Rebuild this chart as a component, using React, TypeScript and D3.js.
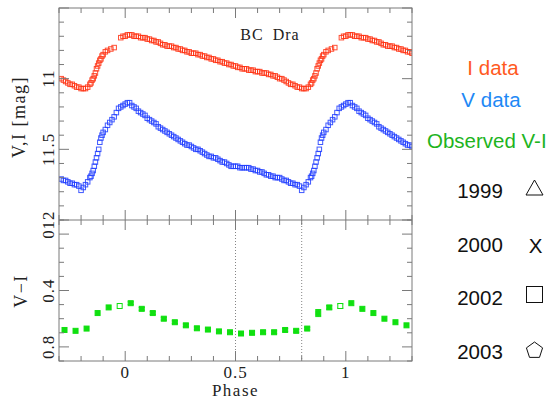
import React from 'react'
import * as d3 from 'd3'

// folded light curves, phase 0..1 -> magnitude (plotted repeated over -0.3..1.3)
const iData: [number, number][] = [
  [0.0, 10.7], [0.01, 10.69], [0.02, 10.69], [0.03, 10.69], [0.04, 10.7], [0.05, 10.7],
  [0.06, 10.7], [0.07, 10.71], [0.08, 10.71], [0.09, 10.71], [0.1, 10.72], [0.11, 10.72],
  [0.12, 10.73], [0.13, 10.73], [0.14, 10.74], [0.15, 10.74], [0.16, 10.75], [0.17, 10.76],
  [0.18, 10.76], [0.19, 10.77], [0.2, 10.77], [0.21, 10.77], [0.22, 10.78], [0.23, 10.78],
  [0.24, 10.79], [0.25, 10.79], [0.26, 10.8], [0.27, 10.8], [0.28, 10.81], [0.29, 10.81],
  [0.3, 10.82], [0.31, 10.82], [0.32, 10.82], [0.33, 10.83], [0.34, 10.83], [0.35, 10.84],
  [0.36, 10.84], [0.37, 10.85], [0.38, 10.85], [0.39, 10.86], [0.4, 10.86], [0.41, 10.87],
  [0.42, 10.87], [0.43, 10.88], [0.44, 10.88], [0.45, 10.89], [0.46, 10.89], [0.47, 10.9],
  [0.48, 10.9], [0.49, 10.91], [0.5, 10.91], [0.51, 10.92], [0.52, 10.92], [0.53, 10.93],
  [0.54, 10.93], [0.55, 10.93], [0.56, 10.94], [0.57, 10.94], [0.58, 10.94], [0.59, 10.95],
  [0.6, 10.95], [0.61, 10.95], [0.62, 10.96], [0.63, 10.96], [0.64, 10.96], [0.65, 10.97],
  [0.66, 10.97], [0.67, 10.98], [0.68, 10.98], [0.69, 10.99], [0.7, 11.0], [0.71, 11.0],
  [0.72, 11.01], [0.73, 11.02], [0.74, 11.03], [0.75, 11.04], [0.76, 11.04], [0.77, 11.05],
  [0.78, 11.06], [0.79, 11.06], [0.8, 11.07], [0.81, 11.07], [0.82, 11.07], [0.83, 11.06],
  [0.84, 11.04], [0.845, 11.03], [0.85, 11.01], [0.855, 11.0], [0.86, 10.98], [0.865, 10.96],
  [0.87, 10.93], [0.875, 10.91], [0.88, 10.89], [0.885, 10.87], [0.89, 10.86], [0.895, 10.84],
  [0.9, 10.83], [0.91, 10.81], [0.92, 10.8], [0.935, 10.79], [0.95, 10.78], [0.98, 10.71],
  [0.99, 10.7],
]

const vData: [number, number][] = [
  [0.0, 11.18], [0.01, 11.17], [0.02, 11.17], [0.03, 11.19], [0.04, 11.2], [0.05, 11.21],
  [0.06, 11.23], [0.07, 11.24], [0.08, 11.25], [0.09, 11.26], [0.1, 11.28], [0.11, 11.29],
  [0.12, 11.3], [0.13, 11.31], [0.14, 11.32], [0.15, 11.34], [0.16, 11.35], [0.17, 11.36],
  [0.18, 11.37], [0.19, 11.38], [0.2, 11.39], [0.21, 11.4], [0.22, 11.41], [0.23, 11.42],
  [0.24, 11.43], [0.25, 11.44], [0.26, 11.45], [0.27, 11.46], [0.28, 11.47], [0.29, 11.47],
  [0.3, 11.48], [0.31, 11.49], [0.32, 11.5], [0.33, 11.5], [0.34, 11.51], [0.35, 11.52],
  [0.36, 11.53], [0.37, 11.54], [0.38, 11.55], [0.39, 11.55], [0.4, 11.56], [0.41, 11.56],
  [0.42, 11.57], [0.43, 11.58], [0.44, 11.59], [0.45, 11.59], [0.46, 11.6], [0.47, 11.61],
  [0.48, 11.62], [0.49, 11.62], [0.5, 11.62], [0.51, 11.62], [0.52, 11.63], [0.53, 11.63],
  [0.54, 11.63], [0.55, 11.63], [0.56, 11.63], [0.57, 11.64], [0.58, 11.64], [0.59, 11.65],
  [0.6, 11.65], [0.61, 11.66], [0.62, 11.66], [0.63, 11.67], [0.64, 11.68], [0.65, 11.68],
  [0.66, 11.69], [0.67, 11.69], [0.68, 11.7], [0.69, 11.7], [0.7, 11.7], [0.71, 11.71],
  [0.72, 11.72], [0.73, 11.72], [0.74, 11.73], [0.75, 11.74], [0.76, 11.74], [0.77, 11.75],
  [0.78, 11.75], [0.79, 11.76], [0.8, 11.79], [0.81, 11.77], [0.82, 11.75], [0.83, 11.73],
  [0.84, 11.7], [0.845, 11.69], [0.85, 11.67], [0.855, 11.65], [0.86, 11.62], [0.865, 11.59],
  [0.87, 11.56], [0.875, 11.53], [0.88, 11.5], [0.885, 11.45], [0.89, 11.42], [0.895, 11.4],
  [0.9, 11.38], [0.91, 11.36], [0.92, 11.33], [0.93, 11.31], [0.94, 11.29], [0.95, 11.27],
  [0.96, 11.24], [0.97, 11.21], [0.98, 11.2], [0.99, 11.19],
]

// binned V-I colour
const viPhase = [0.025, 0.075, 0.125, 0.175, 0.225, 0.275, 0.325, 0.375, 0.425, 0.475,
  0.525, 0.575, 0.625, 0.675, 0.725, 0.775, 0.825, 0.875, 0.925, 0.975]
const viColor = [0.49, 0.53, 0.56, 0.6, 0.625, 0.647, 0.668, 0.677, 0.69, 0.696,
  0.705, 0.7, 0.696, 0.696, 0.68, 0.686, 0.67, 0.56, 0.52, 0.51]
const viErr = [0.01, 0.01, 0.01, 0.01, 0.01, 0.01, 0.01, 0.01, 0.01, 0.01,
  0.01, 0.01, 0.01, 0.01, 0.01, 0.01, 0.01, 0.025, 0.012, 0.015]
const viHollow = [false, false, false, false, false, false, false, false, false, false,
  false, false, false, false, false, false, false, false, false, true]

const phaseLabels = [0, 0.5, 1]
const magLabels = [11, 11.5, 12]
const colorLabels = [0, 0.4, 0.8]
const legendNames = ['I data', 'V data', 'Observed V-I']
const legendColors = ['#ff5a1e', '#1e88f5', '#1eb41e']
const years = ['1999', '2000', '2002', '2003']

const W = 557
const H = 402
const L = 59, R = 412, T = 8, M = 220, B = 361
const axisColor = '#7a7a7a'
const serif = '"Liberation Serif", "DejaVu Serif", serif'
const sans = '"Liberation Sans", Arial, sans-serif'

const x = d3.scaleLinear().domain([-0.3, 1.3]).range([L, R])
const yMag = d3.scaleLinear().domain([10.5, 12]).range([T, M])
const yVI = d3.scaleLinear().domain([-0.1, 0.9]).range([M, B])

const copies = (p: number) => [p - 1, p, p + 1].filter(q => q >= -0.3 && q <= 1.3)
const fmt = (v: number) => d3.format('~g')(v)

const xTicks = d3.range(-3, 14).map(i => i / 10)
const magTicks = d3.range(105, 121).map(i => i / 10)
const viTicks = d3.range(-1, 10).map(i => i / 10)
const isMult = (v: number, s: number) => Math.abs(v / s - Math.round(v / s)) < 1e-6

const App = () => {
  const sq = 4.5
  const lines: JSX.Element[] = []

  // x ticks on top, the divider (both sides) and the bottom
  xTicks.forEach((t, i) => {
    const len = isMult(t, 0.5) ? 10 : 5
    const px = x(t)
    lines.push(<line key={'xt' + i} x1={px} x2={px} y1={T} y2={T + len} />)
    lines.push(<line key={'xm' + i} x1={px} x2={px} y1={M - len} y2={M + len} />)
    lines.push(<line key={'xb' + i} x1={px} x2={px} y1={B - len} y2={B} />)
  })
  magTicks.forEach((t, i) => {
    const len = isMult(t, 0.5) ? 10 : 5
    const py = yMag(t)
    lines.push(<line key={'ml' + i} x1={L} x2={L + len} y1={py} y2={py} />)
    lines.push(<line key={'mr' + i} x1={R - len} x2={R} y1={py} y2={py} />)
  })
  viTicks.forEach((t, i) => {
    const len = isMult(t, 0.4) ? 10 : 5
    const py = yVI(t)
    lines.push(<line key={'vl' + i} x1={L} x2={L + len} y1={py} y2={py} />)
    lines.push(<line key={'vr' + i} x1={R - len} x2={R} y1={py} y2={py} />)
  })

  const pentagon = d3.range(5).map(k => {
    const a = -Math.PI / 2 + (k * 2 * Math.PI) / 5
    return [534.5 + 8.5 * Math.cos(a), 350.5 + 8.5 * Math.sin(a)].join(',')
  }).join(' ')

  return (
    <svg width={W} height={H} style={{ position: 'absolute', left: 0, top: 0, background: '#fff' }}>
      <defs>
        <clipPath id="clipTop"><rect x={L} y={T} width={R - L} height={M - T} /></clipPath>
        <clipPath id="clipBot"><rect x={L} y={M} width={R - L} height={B - M} /></clipPath>
      </defs>

      {/* light curves */}
      <g clipPath="url(#clipTop)" fill="none" strokeWidth={1}>
        {iData.flatMap(([p, m], i) => copies(p).map((q, j) => (
          <rect key={'i' + i + '_' + j} x={x(q) - sq / 2} y={yMag(m) - sq / 2} width={sq} height={sq}
            stroke="#ff3010" strokeOpacity={0.85} />
        )))}
        {vData.flatMap(([p, m], i) => copies(p).map((q, j) => (
          <rect key={'v' + i + '_' + j} x={x(q) - sq / 2} y={yMag(m) - sq / 2} width={sq} height={sq}
            stroke="#1f3cff" strokeOpacity={0.85} />
        )))}
      </g>

      {/* phase markers */}
      {[0.5, 0.8].map(p => (
        <line key={'d' + p} x1={x(p)} x2={x(p)} y1={M} y2={B} stroke="#666" strokeWidth={0.8} strokeDasharray="1,2" />
      ))}

      {/* V-I */}
      <g clipPath="url(#clipBot)">
        {viPhase.flatMap((p, i) => copies(p).map((q, j) => {
          const cx = x(q), cy = yVI(viColor[i])
          const primary = q === p
          return (
            <g key={'c' + i + '_' + j}>
              {primary && (
                <g stroke="#10e010" strokeWidth={1}>
                  <line x1={cx} x2={cx} y1={yVI(viColor[i] - viErr[i])} y2={yVI(viColor[i] + viErr[i])} />
                  <line x1={cx - 3} x2={cx + 3} y1={yVI(viColor[i] - viErr[i])} y2={yVI(viColor[i] - viErr[i])} />
                  <line x1={cx - 3} x2={cx + 3} y1={yVI(viColor[i] + viErr[i])} y2={yVI(viColor[i] + viErr[i])} />
                </g>
              )}
              <rect x={cx - 2.5} y={cy - 2.5} width={5} height={5}
                fill={viHollow[i] ? '#fff' : '#10e010'} stroke="#10e010" strokeWidth={1} />
            </g>
          )
        }))}
      </g>

      {/* frames */}
      <g stroke={axisColor} strokeWidth={1} fill="none">
        <rect x={L} y={T} width={R - L} height={B - T} />
        <line x1={L} x2={R} y1={M} y2={M} />
        {lines}
      </g>

      {/* tick labels */}
      <g fontFamily={serif} fontSize={17} fill="#222" letterSpacing={1}>
        {phaseLabels.map(p => (
          <text key={'pl' + p} x={x(p)} y={378} textAnchor="middle">{fmt(p)}</text>
        ))}
        {magLabels.map(m => (
          <text key={'ml' + m} transform={`translate(54,${yMag(m)}) rotate(-90)`} textAnchor="middle">{fmt(m)}</text>
        ))}
        {colorLabels.map(c => (
          <text key={'cl' + c} transform={`translate(54,${yVI(c)}) rotate(-90)`} textAnchor="middle">{fmt(c)}</text>
        ))}
      </g>

      {/* axis titles */}
      <g fontFamily={serif} fontSize={18} fill="#222" letterSpacing={1.5}>
        <text x={x(0.5)} y={396} fontSize={17} textAnchor="middle">Phase</text>
        <text transform={`translate(25,117) rotate(-90)`} textAnchor="middle">V,I [mag]</text>
        <text transform={`translate(27,291) rotate(-90)`} textAnchor="middle">V−I</text>
        <text x={270} y={40} fontSize={16} letterSpacing={1} wordSpacing={4} textAnchor="middle">BC Dra</text>
      </g>

      {/* legend */}
      <g fontFamily={sans} fontSize={20.5}>
        {legendNames.map((n, i) => (
          <text key={n} x={[493, 491, 427][i]} y={[75, 107, 148][i]} fill={legendColors[i]}
            textAnchor={i < 2 ? 'middle' : 'start'}>{n}</text>
        ))}
        {years.map((yr, i) => (
          <text key={yr} x={480} y={198 + i * 53.7} fill="#111" textAnchor="middle">{yr}</text>
        ))}
        <text x={535.5} y={253} fill="#111" textAnchor="middle">X</text>
      </g>
      <g fill="none" stroke="#111" strokeWidth={1}>
        <polygon points="534.5,180 526,195 543,195" />
        <rect x={526.5} y={286.5} width={16} height={16} />
        <polygon points={pentagon} />
      </g>
    </svg>
  )
}

export default App
